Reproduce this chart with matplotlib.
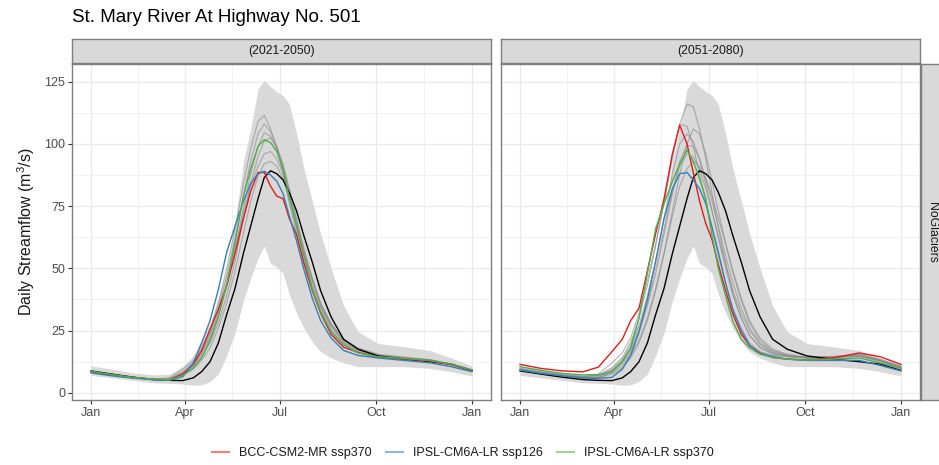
import matplotlib

matplotlib.use("Agg")
import matplotlib.pyplot as plt
from matplotlib.lines import Line2D

plt.rcParams["font.family"] = ["Liberation Sans", "DejaVu Sans"]
plt.rcParams["mathtext.fontset"] = "custom"
plt.rcParams["mathtext.rm"] = "Liberation Sans"
plt.rcParams["mathtext.it"] = "Liberation Sans"

TITLE = "St. Mary River At Highway No. 501"
PERIODS = ["(2021-2050)", "(2051-2080)"]
ROW_LABEL = "NoGlaciers"
Y_LABEL = "Daily Streamflow (m$^3$/s)"

# day of year for every value below
DAYS = [0, 20, 40, 60, 75, 88, 98, 106, 114, 122, 130, 138, 146, 153, 160, 166,
        172, 178, 184, 190, 197, 204, 212, 220, 230, 242, 256, 275, 300, 325, 345, 365]

MONTH_TICKS = [0, 90, 181, 273, 365]
MONTH_LABELS = ["Jan", "Apr", "Jul", "Oct", "Jan"]

# historical range (ribbon) and historical mean (black), same in both panels
HIST_LOW = [7.0, 6.0, 5.0, 4.0, 3.8, 3.5, 3.0, 3.2, 4.5, 7.5, 15, 24, 37, 46, 54, 59,
            52, 50.5, 48, 39.5, 32, 26, 20.5, 16.5, 14, 12, 10.5, 10.5, 10.5, 9.8, 8.5, 6.8]
HIST_HIGH = [10.8, 9.5, 8.0, 7.2, 7.5, 10.6, 15, 21.5, 28, 38, 49, 68, 93, 106, 122, 125.5,
             123, 121, 119.5, 116, 104, 90, 77, 64, 50, 35, 24.5, 19.8, 18.5, 17, 14, 10.8]
HIST_MEAN = [8.8, 7.5, 6.3, 5.3, 5.0, 4.9, 6.0, 8.5, 12.5, 20, 31.5, 42, 56, 67, 78, 86.5,
             89.2, 88, 85.5, 80.5, 73, 63, 52.5, 41, 30.5, 21.5, 17.5, 14.8, 13.5, 12.5, 11.5, 9.0]

SCENARIOS = ["BCC-CSM2-MR ssp370", "IPSL-CM6A-LR ssp126", "IPSL-CM6A-LR ssp370"]
SCENARIO_COLORS = ["#E41A1C", "#377EB8", "#4DAF4A"]

# highlighted scenarios, 2021-2050
RED_2050 = [8.5, 7.2, 6.2, 5.4, 5.2, 7.5, 11.5, 17, 25.5, 33.5, 43, 56, 70, 81, 88.5, 88.5,
            83, 79, 78, 70, 63.5, 52, 41, 32, 23.5, 18.3, 16.2, 14.3, 13.5, 12.8, 11.3, 9.0]
BLUE_2050 = [8.0, 6.8, 5.9, 5.2, 5.0, 6.5, 12, 20, 29, 41.5, 56.5, 67, 77, 84, 88, 89,
             87.5, 85, 80, 71, 61, 49.5, 38, 29, 22, 17, 15, 14, 13, 12, 10.5, 8.5]
GREEN_2050 = [8.7, 7.3, 6.2, 5.5, 5.2, 7.0, 10, 14, 21, 30.5, 43.5, 60.5, 79, 90, 99, 101.7,
              100.5, 97, 90, 78.5, 66.5, 55, 41.5, 32.5, 24.5, 19.3, 16, 14.5, 13.8, 13, 11.5, 9.2]

# highlighted scenarios, 2051-2080
RED_2080 = [11.4, 9.8, 8.8, 8.4, 10.3, 16.5, 21.5, 29, 34, 49, 64, 78, 96, 107.5, 100, 88.5,
            77, 68, 61.5, 51.5, 41, 31.5, 23.5, 19, 16, 14.2, 13.5, 13.2, 14, 16, 14.5, 11.4]
BLUE_2080 = [9.1, 7.8, 6.8, 6.0, 5.8, 6.2, 9.5, 15, 24.5, 37.5, 53, 70, 82, 88, 88.5, 85.5,
             82, 76, 66.5, 56.5, 44, 33, 25, 19, 15.8, 14.6, 13.5, 13, 13, 13, 11, 8.8]
GREEN_2080 = [10.5, 9.0, 7.8, 7.2, 7.3, 8.4, 12.5, 18, 30, 48, 66, 76, 85, 92, 97.5, 93,
              86, 78, 63, 50, 39, 28.5, 21.5, 18, 15.5, 14.2, 13.5, 13.2, 13.5, 14, 12, 9.8]

# remaining ensemble members (grey), 2021-2050
GREY_2050 = [
    [8.6, 7.3, 6.2, 5.5, 6.0, 9.5, 13, 18, 25, 36, 50, 66, 84, 98, 109, 111.5,
     106, 98, 88, 76, 64, 53, 42, 33, 25, 19.5, 16.5, 14.8, 14, 13, 11.5, 9.2],
    [8.4, 7.1, 6.1, 5.4, 5.5, 8.5, 12, 17, 24, 34, 47, 62, 79, 93, 104, 108,
     105, 99, 90, 79, 67, 55, 43, 34, 26, 20, 17, 15, 14, 13, 11.5, 9.0],
    [8.3, 7.0, 6.0, 5.3, 5.4, 8.0, 11, 15.5, 22, 31, 43, 57, 74, 88, 99, 104.5,
     103, 98, 91, 81, 69, 57, 45, 35, 27, 21, 17.5, 15.2, 14.2, 13.2, 11.6, 9.1],
    [8.5, 7.2, 6.1, 5.4, 5.3, 7.5, 10.5, 14.5, 20, 28, 39, 53, 70, 84, 95, 101,
     102.5, 99, 92, 82, 70, 58, 46, 36, 27.5, 21, 17.5, 15, 14, 13.1, 11.4, 9.0],
    [8.4, 7.1, 6.1, 5.4, 5.6, 8.0, 11.5, 16, 23, 32, 44, 58, 72, 83, 91, 96,
     97, 94, 88, 79, 68, 56, 45, 35, 27, 20.5, 17, 15, 14, 13, 11.3, 8.9],
    [8.2, 7.0, 6.0, 5.3, 5.2, 7.0, 9.5, 13, 18, 26, 36, 49, 64, 77, 87, 92,
     93, 91, 86, 78, 68, 57, 46, 36, 28, 21.5, 18, 15.5, 14.3, 13.3, 11.6, 9.1],
]

# remaining ensemble members (grey), 2051-2080
GREY_2080 = [
    [9.5, 8.2, 7.0, 6.3, 7.5, 12, 16, 22, 32, 45, 60, 76, 94, 108, 116, 115,
     106, 94, 80, 66, 52, 40, 30, 23, 18.5, 16, 15, 14, 14.5, 15, 13, 10.5],
    [9.8, 8.4, 7.3, 6.6, 7.0, 10, 14, 20, 30, 43, 59, 77, 96, 108, 107, 99,
     88, 77, 66, 55, 44, 34, 26, 20, 16.5, 15, 14.5, 14, 14.5, 15.5, 13.5, 10.8],
    [9.3, 8.0, 6.9, 6.2, 6.5, 9.0, 13, 18, 27, 39, 53, 70, 88, 100, 104, 101,
     94, 84, 73, 62, 50, 39, 30, 23, 18, 15.5, 14.5, 13.8, 14.2, 14.8, 12.8, 10.2],
    [9.0, 7.8, 6.7, 6.0, 6.2, 8.5, 12, 16, 24, 35, 48, 64, 80, 93, 99.5, 99,
     94, 86, 77, 67, 55, 44, 34, 26, 20, 16.5, 15, 14, 14.3, 15, 12.9, 10.0],
    [9.6, 8.3, 7.2, 6.5, 7.0, 9.0, 12.5, 17, 25, 36, 50, 66, 81, 91, 96, 95,
     90, 82, 73, 63, 52, 41, 32, 25, 19.5, 16, 14.8, 14.2, 14.6, 15.2, 13.2, 10.4],
    [8.9, 7.7, 6.6, 5.9, 6.0, 8.0, 11, 15, 21, 30, 42, 56, 71, 83, 90, 93,
     91, 86, 79, 70, 60, 49, 38, 29, 22, 17.5, 15.5, 14.3, 14.2, 14.6, 12.6, 9.8],
    [9.2, 7.9, 6.8, 6.1, 6.0, 7.5, 10, 14, 20, 29, 41, 56, 73, 88, 100, 106,
     104, 96, 85, 73, 60, 48, 37, 28, 21, 17, 15.2, 14.1, 14.4, 15, 13, 10.1],
]

PANELS = [
    (RED_2050, BLUE_2050, GREEN_2050, GREY_2050),
    (RED_2080, BLUE_2080, GREEN_2080, GREY_2080),
]

TEXT_DARK = "#1A1A1A"
TICK_GREY = "#4D4D4D"
BORDER = "#7F7F7F"
GRID = "#EBEBEB"
STRIP_FILL = "#D9D9D9"


def draw_panel(ax, red, blue, green, greys, show_y):
    ax.fill_between(DAYS, HIST_LOW, HIST_HIGH, color="#D9D9D9", lw=0, zorder=1)
    for g in greys:
        ax.plot(DAYS, g, color="#8C8C8C", lw=0.8, alpha=0.65, zorder=2)
    ax.plot(DAYS, HIST_MEAN, color="black", lw=1.0, zorder=3)
    for series, color in zip([red, blue, green], SCENARIO_COLORS):
        ax.plot(DAYS, series, color=color, lw=1.0, zorder=4)

    ax.set_xlim(-18.25, 383.25)
    ax.set_ylim(-2.9, 132.1)
    ax.set_xticks(MONTH_TICKS)
    ax.set_xticklabels(MONTH_LABELS)
    ax.set_xticks([45, 135.5, 227, 319], minor=True)
    ax.set_yticks([0, 25, 50, 75, 100, 125])
    ax.set_yticks([12.5, 37.5, 62.5, 87.5, 112.5], minor=True)
    ax.grid(which="major", color=GRID, lw=1.0, zorder=0)
    ax.grid(which="minor", color=GRID, lw=0.5, zorder=0)
    ax.set_axisbelow(True)
    ax.tick_params(which="major", length=3, width=0.8, color="#333333",
                   labelsize=9, labelcolor=TICK_GREY, pad=2)
    ax.tick_params(which="minor", length=0)
    if not show_y:
        ax.tick_params(axis="y", left=False, labelleft=False)
    for s in ax.spines.values():
        s.set_color(BORDER)
        s.set_linewidth(1.0)


def add_strip(fig, rect, text, rotation=0):
    sax = fig.add_axes(rect)
    sax.set_facecolor(STRIP_FILL)
    sax.set_xticks([])
    sax.set_yticks([])
    for s in sax.spines.values():
        s.set_color(BORDER)
        s.set_linewidth(1.0)
    sax.text(0.5, 0.5, text, ha="center", va="center", rotation=rotation,
             fontsize=8.8, color=TEXT_DARK, transform=sax.transAxes)
    return sax


def main() -> None:
    W, H = 939, 465
    fig = plt.figure(figsize=(W / 100, H / 100), dpi=100)

    bottom = 1 - 400 / H
    height = (400 - 64) / H
    lefts = [72, 501]
    width = 419

    for i, (red, blue, green, greys) in enumerate(PANELS):
        ax = fig.add_axes([lefts[i] / W, bottom, width / W, height])
        draw_panel(ax, red, blue, green, greys, show_y=(i == 0))
        if i == 0:
            ax.set_ylabel(Y_LABEL, fontsize=11.5, color=TEXT_DARK, labelpad=5)
        add_strip(fig, [lefts[i] / W, 1 - 63 / H, width / W, 24 / H], PERIODS[i])

    add_strip(fig, [921 / W, bottom, 22 / W, height], ROW_LABEL, rotation=270)

    fig.text(72 / W, 1 - 18 / H, TITLE, fontsize=13.5, color="black",
             ha="left", va="center")

    handles = [Line2D([], [], color=c, lw=1.5, alpha=0.55) for c in SCENARIO_COLORS]
    fig.legend(handles, SCENARIOS, loc="center", bbox_to_anchor=(463 / W, 1 - 453 / H),
               ncol=3, frameon=False, fontsize=9, handlelength=1.4,
               columnspacing=1.1, handletextpad=0.8, labelcolor=TEXT_DARK)

    fig.savefig("out.png", dpi=100)
    plt.close(fig)


if __name__ == "__main__":
    main()
